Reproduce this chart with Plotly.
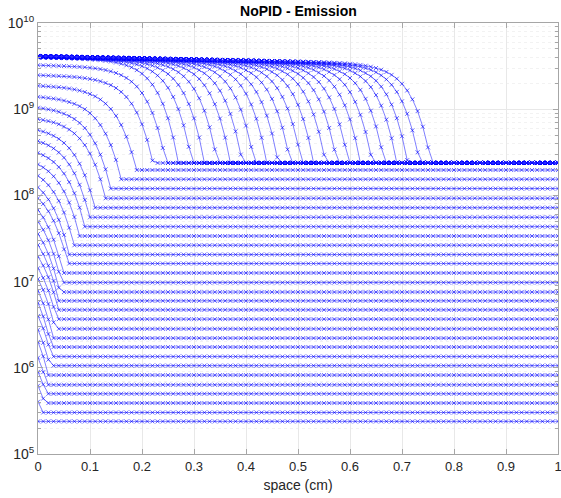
import numpy as np
import plotly.graph_objects as go

# spatial grid (cm)
x_space = np.round(np.arange(0, 101) * 0.01, 2)

# value of each curve at x = 0 (one curve per time step)
left_value = [2.43e5, 4.04e5, 6.19e5, 8.99e5, 1.31e6, 2.00e6, 2.76e6, 4.00e6, 5.67e6, 7.80e6,
              1.07e7, 1.43e7, 1.95e7, 2.66e7, 3.57e7, 4.96e7, 6.77e7, 9.26e7, 1.24e8, 1.69e8,
              2.29e8, 3.12e8, 4.27e8, 5.72e8, 7.68e8, 1.04e9, 1.39e9, 1.87e9, 2.48e9, 3.24e9,
              3.98e9, 4.00e9, 4.01e9, 4.02e9, 4.03e9, 4.04e9, 4.05e9, 4.06e9, 4.07e9, 4.08e9,
              4.09e9, 4.10e9, 4.10e9, 4.11e9, 4.12e9, 4.12e9, 4.13e9, 4.13e9, 4.14e9, 4.14e9,
              4.15e9, 4.15e9]

# position of the emission front of each curve (cm)
front_x = [0.0, 0.01, 0.013, 0.016, 0.017, 0.02, 0.023, 0.026, 0.026, 0.029,
           0.033, 0.036, 0.039, 0.04, 0.042, 0.045, 0.048, 0.057, 0.06, 0.069,
           0.08, 0.09, 0.099, 0.109, 0.13, 0.14, 0.16, 0.189, 0.221, 0.246,
           0.270, 0.296, 0.320, 0.345, 0.370, 0.393, 0.416, 0.440, 0.462, 0.485,
           0.507, 0.530, 0.553, 0.575, 0.597, 0.620, 0.643, 0.666, 0.690, 0.711,
           0.734, 0.756]

# background level beyond the front
floor_value = [2.39e5, 3.03e5, 3.90e5, 5.00e5, 6.35e5, 8.23e5, 1.06e6, 1.35e6, 1.74e6, 2.21e6,
               2.83e6, 3.67e6, 4.70e6, 5.98e6, 7.56e6, 9.74e6, 1.26e7, 1.62e7, 2.06e7, 2.64e7,
               3.38e7, 4.34e7, 5.57e7, 7.20e7, 9.26e7, 1.20e8, 1.54e8, 1.97e8] + [2.38e8] * 24

# front sharpness (cm) and plateau decline (decades per cm)
front_width = [0.037] * 28 + [0.035] * 24
plateau_slope = 0.13

x_tickvals = [0, 0.1, 0.2, 0.3, 0.4, 0.5, 0.6, 0.7, 0.8, 0.9, 1]
x_ticktext = ['0', '0.1', '0.2', '0.3', '0.4', '0.5', '0.6', '0.7', '0.8', '0.9', '1']
y_tickvals = [1e5, 1e6, 1e7, 1e8, 1e9, 1e10]
y_ticktext = ['10<sup>5</sup>', '10<sup>6</sup>', '10<sup>7</sup>', '10<sup>8</sup>',
              '10<sup>9</sup>', '10<sup>10</sup>']
y_minor = [m * 10 ** e for e in range(5, 10) for m in range(2, 10)]


def profile(L, xf, F, lam):
    lL, lF = np.log10(L), np.log10(F)
    out = np.full(x_space.shape, lF)
    if xf > 0:
        d = xf - x_space
        m = d > 0
        g = (1 - np.exp(-d[m] / lam)) / (1 - np.exp(-xf / lam))
        lP = lL - plateau_slope * x_space[m]
        out[m] = lF + (lP - lF) * g
    return 10 ** out


fig = go.Figure()
for L, xf, F, lam in zip(left_value, front_x, floor_value, front_width):
    fig.add_trace(go.Scatter(
        x=x_space, y=profile(L, xf, F, lam), mode='lines+markers',
        line=dict(color='rgb(40,40,255)', width=0.6),
        marker=dict(symbol='x-thin', size=4, line=dict(color='rgb(0,0,255)', width=0.6)),
        showlegend=False, hoverinfo='skip', cliponaxis=True))

axcol = '#a6a6a6'
font_family = 'Liberation Sans, Arial, Helvetica, sans-serif'
fig.update_layout(
    width=561, height=498,
    margin=dict(l=38, r=3, t=23, b=44),
    paper_bgcolor='white', plot_bgcolor='white',
    font=dict(family=font_family, color='#262626'),
    title=dict(text='<b>NoPID - Emission</b>', x=0.532, xanchor='center', xref='container',
               y=1 - 11 / 498, yanchor='middle', yref='container',
               font=dict(family=font_family, size=14, color='black')),
    xaxis=dict(range=[0, 1], tickmode='array', tickvals=x_tickvals, ticktext=x_ticktext,
               ticks='inside', ticklen=5, tickcolor=axcol, ticklabeloverflow='allow',
               automargin=False,
               showline=True, linecolor=axcol, linewidth=1, mirror='ticks',
               showgrid=True, gridcolor='#e8e8e8', gridwidth=1, zeroline=False,
               tickfont=dict(size=13, color='#262626'),
               title=dict(text='space (cm)', font=dict(size=14, color='#262626'), standoff=7)),
    yaxis=dict(type='log', range=[5, 10], tickmode='array', tickvals=y_tickvals, ticktext=y_ticktext,
               ticks='inside', ticklen=5, tickcolor=axcol, automargin=False,
               showline=True, linecolor=axcol, linewidth=1, mirror='ticks',
               showgrid=True, gridcolor='#e8e8e8', gridwidth=1, zeroline=False,
               tickfont=dict(size=14, color='#262626'),
               minor=dict(tickmode='array', tickvals=y_minor, ticks='inside', ticklen=3,
                          tickcolor=axcol, showgrid=True, gridcolor='#f2f2f2', griddash='dot')),
)

fig.write_html('out.html')
